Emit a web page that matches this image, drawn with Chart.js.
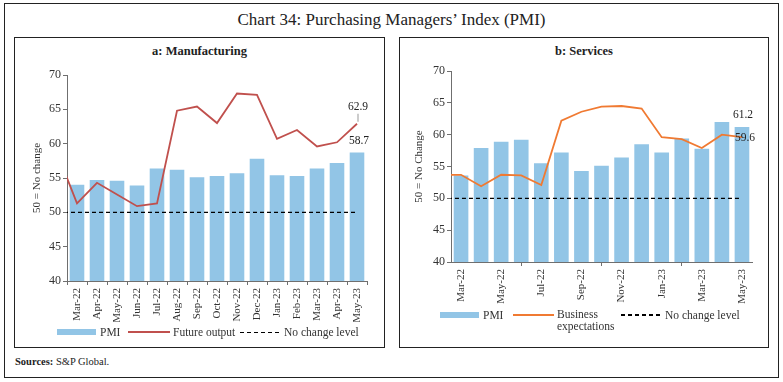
<!DOCTYPE html>
<html>
<head>
<meta charset="utf-8">
<title>Chart 34: Purchasing Managers' Index (PMI)</title>
<script src="https://cdn.jsdelivr.net/npm/chart.js@4"></script>
<style>
  body { margin: 0; background: #fff; font-family: "Liberation Serif", serif; color: #222; }
  #page { position: relative; width: 783px; height: 382px; overflow: hidden; }
  .frame { position: absolute; border: 1px solid #222; box-sizing: border-box; }
  .txt { position: absolute; white-space: nowrap; line-height: 14px; font-size: 11.5px; color: #333; }
  .swatch { position: absolute; }
  .dash { position: absolute; height: 1.5px; background: repeating-linear-gradient(to right, #000 0 4px, transparent 4px 7px); }
  canvas { position: absolute; }
</style>
</head>
<body>
<div id="page">
  <div class="frame" style="left:4px; top:3px; width:775px; height:375px;"></div>
  <div class="txt" style="left:0; width:783px; text-align:center; top:10px; font-size:17px; line-height:20px; color:#222;">Chart 34: Purchasing Managers’ Index (PMI)</div>

  <div class="frame" style="left:14px; top:37px; width:371px; height:311px;"></div>
  <div class="frame" style="left:399px; top:37px; width:370px; height:311px;"></div>
  <div class="txt" style="left:14px; width:371px; text-align:center; top:44px; font-weight:bold; font-size:12.5px; color:#222;">a: Manufacturing</div>
  <div class="txt" style="left:399px; width:370px; text-align:center; top:44px; font-weight:bold; font-size:12.5px; color:#222;">b: Services</div>

  <canvas id="mfgChart" width="368" height="284" style="left:15px; top:38px;"></canvas>
  <canvas id="svcChart" width="367" height="267" style="left:400px; top:38px;"></canvas>

  <!-- legend a -->
  <div class="swatch" style="left:57px; top:329px; width:39px; height:6px; background:#92c5e6;"></div>
  <div class="txt" style="left:100px; top:325px;">PMI</div>
  <div class="swatch" style="left:128px; top:331px; width:42px; height:2px; background:#c0504d;"></div>
  <div class="txt" style="left:173px; top:325px;">Future output</div>
  <div class="dash" style="left:240px; top:331.5px; width:39px;"></div>
  <div class="txt" style="left:284px; top:325px;">No change level</div>

  <!-- legend b -->
  <div class="swatch" style="left:440px; top:312px; width:39px; height:6px; background:#92c5e6;"></div>
  <div class="txt" style="left:483px; top:308px;">PMI</div>
  <div class="swatch" style="left:513px; top:314px; width:41px; height:2px; background:#f07a32;"></div>
  <div class="txt" style="left:557px; top:308px; line-height:12px;">Business<br>expectations</div>
  <div class="dash" style="left:621px; top:314px; width:40px;"></div>
  <div class="txt" style="left:665px; top:308px;">No change level</div>

  <div class="txt" style="left:15px; top:355px; font-size:10.5px; color:#222;"><b>Sources:</b> S&amp;P Global.</div>
</div>

<script>
// Feb-22 sits left of the visible range; it only feeds the lines that enter at the axis
const months = ['Feb-22', 'Mar-22', 'Apr-22', 'May-22', 'Jun-22', 'Jul-22', 'Aug-22', 'Sep-22',
                'Oct-22', 'Nov-22', 'Dec-22', 'Jan-23', 'Feb-23', 'Mar-23', 'Apr-23', 'May-23'];

const mfgPmi    = [null, 54.0, 54.7, 54.6, 53.9, 56.4, 56.2, 55.1, 55.3, 55.7, 57.8, 55.4, 55.3, 56.4, 57.2, 58.7];
const mfgFuture = [58.7, 51.3, 54.3, 52.6, 50.9, 51.3, 64.8, 65.4, 63.0, 67.3, 67.1, 60.7, 62.0, 59.6, 60.2, 62.9];

const svcPmi    = [null, 53.6, 57.9, 58.9, 59.2, 55.5, 57.2, 54.3, 55.1, 56.4, 58.5, 57.2, 59.4, 57.8, 62.0, 61.2];
const svcExpect = [53.7, 53.7, 51.9, 53.7, 53.6, 52.1, 62.2, 63.6, 64.4, 64.5, 64.1, 59.6, 59.3, 57.9, 60.0, 59.6];

const noChange  = [50, 50, 50, 50, 50, 50, 50, 50, 50, 50, 50, 50, 50, 50, 50, 50];

const yTicks = [40, 45, 50, 55, 60, 65, 70];

const BAR_BLUE = '#92c5e6';
const AXIS_GREY = '#6f6f6f';

Chart.defaults.font.family = "'Liberation Serif', serif";
Chart.defaults.font.size = 11;
Chart.defaults.color = '#333';

// end-of-series value labels, placed from the chart's own scales
const valueLabels = {
    id: 'valueLabels',
    afterDatasetsDraw(chart, args, opts) {
        const ctx = chart.ctx;
        const xs = chart.scales.x, ys = chart.scales.y;
        ctx.save();
        ctx.font = "11.5px 'Liberation Serif', serif";
        ctx.fillStyle = '#222';
        ctx.textBaseline = 'middle';
        (opts.items || []).forEach(it => {
            const i = it.data.length - 1;
            const px = xs.getPixelForValue(i);
            const py = ys.getPixelForValue(it.data[i]);
            ctx.textAlign = it.align || 'center';
            ctx.fillText(it.data[i].toFixed(1), px + it.dx, py + it.dy);
            if (it.leader) {
                ctx.strokeStyle = '#999';
                ctx.lineWidth = 1;
                ctx.beginPath();
                ctx.moveTo(px + 1, py + it.dy + 7);
                ctx.lineTo(px + 1, py - 2);
                ctx.stroke();
            }
        });
        ctx.restore();
    }
};

function makeChart(id, cfg) {
    return new Chart(document.getElementById(id), {
        type: 'bar',
        data: {
            labels: months,
            datasets: [
                { type: 'line', label: cfg.lineLabel, data: cfg.line, borderColor: cfg.lineColor,
                  borderWidth: 1.8, pointRadius: 0, tension: 0, order: 1 },
                { type: 'line', label: 'No change level', data: noChange, borderColor: '#000',
                  borderWidth: 1.4, borderDash: [4, 3], pointRadius: 0, order: 2 },
                { label: 'PMI', data: cfg.bars, backgroundColor: BAR_BLUE,
                  barPercentage: 0.73, categoryPercentage: 1, order: 3 }
            ]
        },
        options: {
            responsive: false,
            animation: false,
            devicePixelRatio: 1,
            layout: { padding: cfg.padding },
            plugins: {
                legend: { display: false },
                tooltip: { enabled: false },
                valueLabels: { items: cfg.labels }
            },
            scales: {
                x: {
                    min: 'Mar-22',
                    grid: { offset: true, drawOnChartArea: false, tickLength: 4, color: AXIS_GREY },
                    border: { color: AXIS_GREY },
                    ticks: { maxRotation: 90, minRotation: 90, padding: 3,
                             autoSkip: cfg.skip, maxTicksLimit: cfg.skip ? 8 : 20 },
                    afterFit: s => { s.height = cfg.xHeight; }
                },
                y: {
                    min: 40, max: 70,
                    afterBuildTicks: s => { s.ticks = yTicks.map(v => ({ value: v })); },
                    grid: { drawOnChartArea: false, tickLength: 4, color: AXIS_GREY },
                    border: { color: AXIS_GREY },
                    ticks: { padding: 2, font: { size: 12 } },
                    title: { display: true, text: cfg.yTitle, padding: { top: cfg.titlePad, bottom: 0 },
                             font: { size: 11 } },
                    afterFit: s => { s.width = cfg.yWidth; }
                }
            }
        },
        plugins: [valueLabels]
    });
}

makeChart('mfgChart', {
    bars: mfgPmi, line: mfgFuture, lineLabel: 'Future output', lineColor: '#c0504d',
    yTitle: '50 = No change', padding: { top: 37, right: 16, left: 0, bottom: 0 },
    yWidth: 52, xHeight: 41, titlePad: 16, skip: false,
    labels: [
        { data: mfgFuture, dx: 1, dy: -17, leader: true },
        { data: mfgPmi, dx: 2, dy: -12 }
    ]
});

makeChart('svcChart', {
    bars: svcPmi, line: svcExpect, lineLabel: 'Business expectations', lineColor: '#f07a32',
    yTitle: '50 = No Change', padding: { top: 33, right: 15, left: 0, bottom: 0 },
    yWidth: 51, xHeight: 43, titlePad: 13, skip: true,
    labels: [
        { data: svcPmi, dx: 1, dy: -12 },
        { data: svcExpect, dx: -7, dy: 1, align: 'left' }
    ]
});
</script>
</body>
</html>
